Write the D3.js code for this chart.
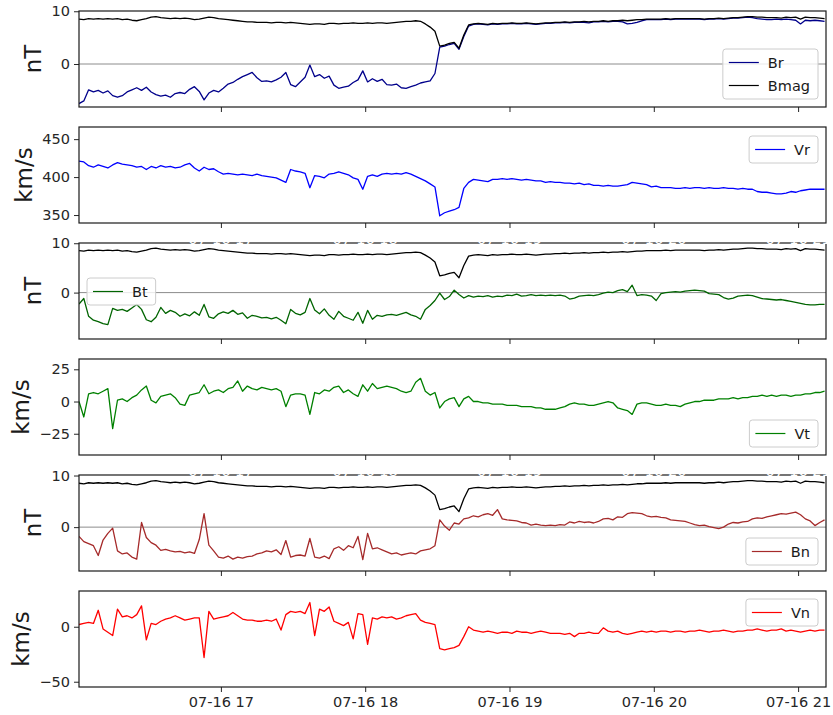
<!DOCTYPE html>
<html>
<head>
<meta charset="utf-8">
<script src="https://cdn.jsdelivr.net/npm/d3@7"></script>
<style>
  body { margin: 0; background: #fff; }
  svg { font-family: "DejaVu Sans", sans-serif; }
</style>
</head>
<body>
<svg width="833" height="715"></svg>
<script>
// samples every 2 minutes, first one at 07-16 16:01 UTC
const startTime = Date.UTC(2021, 6, 16, 16, 1);
const stepMinutes = 2;

const bmag = [8.5, 8.4, 8.6, 8.5, 8.6, 8.5, 8.6, 8.5, 8.6, 8.4,
  8.5, 8.3, 8.2, 8.4, 8.6, 8.9, 9.0, 8.8, 8.7, 8.6,
  8.7, 8.6, 8.7, 8.6, 8.4, 8.5, 8.7, 8.9, 8.8, 8.6,
  8.5, 8.4, 8.3, 8.2, 8.1, 8.0, 8.0, 7.9, 7.9, 7.9,
  7.8, 7.9, 7.9, 7.8, 7.9, 7.8, 7.7, 7.6, 7.5, 7.6,
  7.6, 7.5, 7.7, 7.7, 7.6, 7.7, 7.7, 7.8, 7.7, 7.7,
  7.8, 7.7, 7.8, 7.8, 7.7, 7.8, 7.9, 8.0, 8.1, 8.1,
  8.2, 8.1, 7.6, 7.0, 6.2, 3.4, 3.6, 3.9, 4.1, 3.0,
  5.5, 7.4, 7.6, 7.7, 7.6, 7.5, 7.7, 7.6, 7.7, 7.7,
  7.8, 7.7, 7.7, 7.8, 7.7, 7.6, 7.7, 7.8, 7.8, 7.9,
  7.9, 8.0, 7.9, 8.0, 8.0, 8.1, 8.0, 8.1, 8.1, 8.2,
  8.1, 8.2, 8.2, 8.3, 8.2, 8.3, 8.4, 8.4, 8.5, 8.5,
  8.5, 8.5, 8.6, 8.5, 8.6, 8.6, 8.6, 8.6, 8.6, 8.6,
  8.5, 8.6, 8.6, 8.7, 8.6, 8.7, 8.8, 8.8, 8.9, 9.0,
  9.0, 8.9, 8.9, 8.8, 8.8, 8.8, 8.7, 8.9, 8.8, 8.9,
  8.5, 8.9, 8.8, 8.8, 8.7, 8.6];

const br = [-7.5, -7.0, -4.9, -5.3, -5.0, -5.5, -5.1, -6.0, -6.3, -6.0,
  -5.3, -4.9, -4.5, -5.0, -4.4, -5.3, -5.8, -6.1, -5.9, -6.3,
  -5.6, -5.4, -5.6, -4.8, -4.3, -5.2, -6.8, -5.5, -5.0, -5.3,
  -4.6, -3.8, -3.5, -2.9, -2.4, -2.0, -1.6, -2.6, -3.3, -3.2,
  -3.4, -3.0, -2.5, -1.6, -3.9, -4.3, -3.4, -2.5, -0.2, -2.4,
  -2.0, -2.7, -2.3, -4.0, -4.6, -4.4, -4.2, -3.5, -3.0, -1.3,
  -3.4, -2.8, -3.3, -2.9, -3.9, -4.0, -3.8, -4.5, -4.6, -4.3,
  -4.0, -3.6, -3.4, -3.2, -1.8, 3.2, 3.4, 3.7, 3.9, 2.8,
  5.2, 7.2, 7.5, 7.6, 7.5, 7.4, 7.6, 7.5, 7.6, 7.6,
  7.7, 7.6, 7.6, 7.7, 7.6, 7.5, 7.6, 7.7, 7.7, 7.8,
  7.8, 7.9, 7.8, 7.9, 7.9, 7.9, 7.8, 8.0, 8.0, 8.1,
  8.0, 8.1, 8.1, 8.0, 7.6, 7.7, 7.9, 8.2, 8.4, 8.4,
  8.4, 8.4, 8.5, 8.4, 8.5, 8.5, 8.5, 8.5, 8.5, 8.5,
  8.4, 8.5, 8.5, 8.6, 8.5, 8.6, 8.7, 8.7, 8.8, 8.9,
  8.8, 8.6, 8.5, 8.4, 8.4, 8.5, 8.4, 8.5, 8.4, 8.3,
  7.6, 8.3, 8.2, 8.3, 8.2, 8.1];

const vr = [421, 420, 415, 413, 416, 414, 412, 416, 419, 417,
  416, 415, 413, 414, 410, 414, 412, 415, 413, 414,
  412, 413, 416, 418, 412, 408, 413, 410, 411, 407,
  404, 405, 404, 403, 404, 403, 402, 404, 402, 401,
  400, 399, 396, 393, 410, 408, 407, 405, 386, 402,
  401, 399, 404, 405, 407, 405, 403, 399, 397, 384,
  401, 403, 401, 404, 405, 404, 405, 404, 406, 404,
  401, 398, 395, 391, 387, 349, 353, 355, 357, 360,
  385, 393, 397, 396, 395, 394, 397, 397, 398, 397,
  398, 397, 396, 397, 396, 395, 395, 393, 394, 393,
  393, 392, 392, 391, 392, 390, 391, 389, 389, 388,
  389, 388, 388, 389, 390, 393, 392, 391, 390, 387,
  388, 386, 386, 386, 385, 385, 386, 385, 386, 386,
  385, 386, 385, 385, 386, 385, 385, 384, 385, 384,
  384, 381, 380, 380, 379, 378, 378, 379, 381, 380,
  382, 383, 384, 384, 384, 384];

const bt = [-2.3, -1.2, -4.8, -5.6, -5.9, -6.3, -6.5, -3.2, -3.6, -3.4,
  -3.8, -3.1, -2.4, -3.4, -5.5, -5.9, -5.0, -3.0, -4.2, -3.6,
  -4.0, -4.8, -4.3, -4.7, -3.9, -4.6, -2.4, -4.9, -5.2, -4.3,
  -3.9, -4.2, -3.6, -4.4, -4.1, -5.2, -4.6, -4.8, -5.1, -5.0,
  -5.3, -5.0, -5.6, -6.3, -3.4, -4.2, -4.5, -4.0, -1.2, -3.5,
  -4.3, -3.3, -4.6, -5.4, -3.8, -4.8, -5.2, -5.6, -4.0, -6.2,
  -3.6, -5.4, -4.6, -4.8, -4.5, -4.4, -4.6, -4.3, -4.0, -4.5,
  -4.8, -5.4, -3.4, -2.6, -1.6, -0.1, -1.4, -0.8, 0.5, -0.4,
  -1.1, -0.6, -0.9, -0.7, -0.8, -0.6, -0.9, -0.7, -0.8, -0.5,
  -0.6, -0.3, -0.7, -0.6, -0.4, -0.6, -0.5, -0.6, -0.5, -0.6,
  -0.5, -0.7, -1.3, -1.1, -0.7, -0.6, -0.5, -0.6, -0.4, -0.1,
  0.1, 0.0, 0.4, 0.6, 0.2, 1.5, -0.6, -0.4, -0.5, -0.7,
  -1.6, -0.2, 0.0, 0.1, 0.2, 0.1, 0.3, 0.4, 0.5, 0.4,
  0.3, -0.2, -0.3, -0.4, -1.0, -1.3, -1.1, -0.7, -0.6, -0.5,
  -0.6, -0.9, -1.2, -1.3, -1.4, -1.5, -1.4, -1.6, -1.8, -2.0,
  -2.2, -2.4, -2.5, -2.5, -2.4, -2.4];

const vt = [0, -12, 6, 7, 6, 8, 10, -21, 1, 2,
  0, 3, 5, 9, 12, 1, -1, 4, 5, 6,
  3, -2, -3, 5, 6, 7, 13, 6, 8, 9,
  7, 10, 11, 16, 8, 12, 10, 9, 11, 10,
  9, 10, 8, -4, 5, 6, 6, 5, -10, 7,
  6, 9, 8, 11, 12, 7, 9, 6, 4, 13,
  8, 14, 10, 11, 12, 11, 10, 8, 7, 8,
  15, 18, 8, 5, 7, -5, 0, 2, 3, -4,
  2, 4, 0, 0, -1, -1, -2, -2, -2, -3,
  -3, -3, -4, -4, -4, -5, -5, -6, -6, -6,
  -5, -4, -2, -1, -2, -2, -3, -3, -2, -1,
  0, -1, -5, -6, -7, -10, -2, -1, -1, -2,
  -3, -3, -2, -3, -3, -4, -2, -1, 0, 0,
  1, 1, 1, 2, 2, 2, 3, 2, 3, 3,
  4, 4, 5, 4, 5, 4, 5, 5, 4, 5,
  5, 6, 6, 7, 7, 8];

const bn = [-1.8, -2.8, -3.2, -3.6, -5.5, -2.5, -1.2, -0.2, -4.6, -5.2,
  -5.0, -5.8, -6.2, 0.9, -2.0, -3.0, -3.5, -4.5, -4.3, -4.6,
  -4.8, -4.7, -5.0, -4.8, -5.1, -2.4, 2.6, -3.5, -4.6, -5.8,
  -6.0, -5.6, -6.2, -5.8, -6.0, -5.7, -5.6, -5.2, -5.0, -4.6,
  -4.8, -4.4, -5.3, -2.6, -5.8, -5.5, -5.4, -5.6, -2.2, -5.8,
  -6.0, -5.6, -6.1, -4.2, -3.8, -4.5, -3.6, -4.0, -1.8, -6.3,
  -1.2, -4.2, -4.0, -4.4, -4.8, -5.2, -5.0, -5.4, -5.2, -5.0,
  -5.2, -4.6, -4.4, -4.2, -3.6, 1.4, 0.2, -0.6, 0.8, 0.6,
  1.6, 1.8, 2.2, 2.0, 2.4, 2.6, 2.3, 3.4, 1.6, 1.4,
  1.3, 1.2, 0.9, 0.8, 0.4, 0.6, 0.4, 0.3, 0.4, 0.3,
  0.5, 0.4, 1.0, 0.8, 1.1, 0.9, 1.0, 0.8, 1.1, 1.6,
  1.7, 1.4, 2.0, 1.9, 2.6, 2.8, 2.7, 2.6, 2.2, 2.0,
  2.1, 1.9, 1.8, 1.4, 1.3, 1.2, 1.1, 0.8, 0.5, 0.3,
  0.4, 0.1, -0.1, -0.3, 0.0, 0.6, 0.9, 0.8, 1.0, 1.1,
  1.6, 1.8, 1.7, 2.0, 2.2, 2.4, 2.6, 2.5, 2.7, 2.9,
  2.4, 1.6, 1.2, 0.3, 0.9, 1.4];

const vn = [2, 3, 4, 3, 15, -2, -5, -8, 16, 9,
  10, 8, 11, 19, -12, 3, 2, 5, 7, 8,
  10, 8, 6, 7, 8, 8, -28, 14, 7, 8,
  9, 10, 13, 10, 7, 6, 6, 5, 5, 6,
  5, 7, -3, 11, 14, 13, 14, 12, 22, -8,
  16, 14, 18, 5, 3, 1, 4, -11, 12, 11,
  -16, 8, 7, 9, 8, 9, 7, 8, 10, 11,
  12, 6, 4, 3, 2, -20, -21, -20, -19, -17,
  -9, 0, -3, -4, -5, -4, -5, -6, -5, -5,
  -6, -4, -5, -5, -6, -5, -4, -5, -6, -6,
  -6, -7, -6, -9, -6, -6, -5, -6, -6, -1,
  -4, -5, -4, -6, -7, -6, -5, -4, -5, -4,
  -5, -4, -4, -5, -4, -4, -5, -4, -4, -3,
  -4, -5, -4, -4, -3, -4, -5, -4, -4, -3,
  -3, -2, -3, -4, -3, -3, -2, -4, -3, -4,
  -5, -4, -3, -4, -3, -3];

const times = bmag.map((_, i) => new Date(startTime + i * stepMinutes * 60000));

// panel setup
const svg = d3.select('svg');
const left = 79, right = 826, top0 = 11, panelH = 96, gap = 20;
const x = d3.scaleUtc()
  .domain([new Date(Date.UTC(2021, 6, 16, 16, 1)), new Date(Date.UTC(2021, 6, 16, 21, 11, 36))])
  .range([left, right]);
const hourTicks = d3.utcHour.range(new Date(Date.UTC(2021, 6, 16, 17)), new Date(Date.UTC(2021, 6, 16, 21, 30)));
const fmt = d3.utcFormat('%m-%d %H');

const panels = [
  {unit: 'nT', domain: [-8.15, 10.05], ticks: [0, 10], zero: true,
   lines: [{name: 'Br', data: br, color: '#00008b'}, {name: 'Bmag', data: bmag, color: '#000'}],
   legend: {side: 'right', top: 38}},
  {unit: 'km/s', domain: [339.5, 466], ticks: [350, 400, 450], ghostLabels: true,
   lines: [{name: 'Vr', data: vr, color: '#0000ff'}],
   legend: {side: 'right', top: 9}},
  {unit: 'nT', domain: [-9.4, 10.05], ticks: [0, 10], zero: true,
   lines: [{data: bmag, color: '#000'}, {name: 'Bt', data: bt, color: '#006400'}],
   legend: {side: 'left', top: 35}},
  {unit: 'km/s', domain: [-41.5, 33], ticks: [-25, 0, 25], ghostLabels: true,
   lines: [{name: 'Vt', data: vt, color: '#008000'}],
   legend: {side: 'right', top: 61}},
  {unit: 'nT', domain: [-8.5, 10.1], ticks: [0, 10], zero: true,
   lines: [{data: bmag, color: '#000'}, {name: 'Bn', data: bn, color: '#a52a2a'}],
   legend: {side: 'right', top: 63}},
  {unit: 'km/s', domain: [-54.8, 32.5], ticks: [-50, 0],
   lines: [{name: 'Vn', data: vn, color: '#ff0000'}],
   legend: {side: 'right', top: 8}}
];

const ghosts = [];

panels.forEach((p, i) => {
  const top = top0 + i * (panelH + gap);
  const bottom = top + panelH;
  const y = d3.scaleLinear().domain(p.domain).range([bottom, top]);
  const g = svg.append('g');

  g.append('clipPath').attr('id', 'clip' + i)
    .append('rect').attr('x', left).attr('y', top).attr('width', right - left).attr('height', panelH);

  const plot = g.append('g').attr('clip-path', `url(#clip${i})`);
  if (p.zero) {
    plot.append('line')
      .attr('x1', left).attr('x2', right)
      .attr('y1', y(0)).attr('y2', y(0))
      .attr('stroke', '#8c8c8c').attr('stroke-width', 1);
  }
  const line = d3.line().x((d, j) => x(times[j])).y(d => y(d));
  p.lines.forEach(s => {
    plot.append('path')
      .attr('d', line(s.data))
      .attr('fill', 'none')
      .attr('stroke', s.color)
      .attr('stroke-width', 1.3)
      .attr('stroke-linejoin', 'round');
  });

  // y axis
  const yAxis = g.append('g')
    .attr('transform', `translate(${left},0)`)
    .call(d3.axisLeft(y).tickValues(p.ticks).tickSize(5).tickPadding(4).tickFormat(d3.format('d')));
  yAxis.select('.domain').remove();
  yAxis.selectAll('text').attr('font-size', 14.5).attr('fill', '#262626').attr('font-family', 'DejaVu Sans');
  yAxis.selectAll('line').attr('stroke', '#262626');

  // x axis ticks on every panel, labels only on the last
  const xAxis = g.append('g')
    .attr('transform', `translate(0,${bottom})`)
    .call(d3.axisBottom(x).tickValues(hourTicks).tickSize(5).tickPadding(5).tickFormat(i === panels.length - 1 ? fmt : ''));
  xAxis.select('.domain').remove();
  xAxis.selectAll('text').attr('font-size', 14.5).attr('fill', '#262626').attr('font-family', 'DejaVu Sans');
  xAxis.selectAll('line').attr('stroke', '#262626');
  if (p.ghostLabels) ghosts.push(bottom);

  g.append('rect')
    .attr('x', left).attr('y', top).attr('width', right - left).attr('height', panelH)
    .attr('fill', 'none').attr('stroke', '#1a1a1a').attr('stroke-width', 1.2);

  // y label, placed left of the tick labels
  let minX = left;
  yAxis.selectAll('text').each(function () { minX = Math.min(minX, this.getBBox().x + left); });
  g.append('text')
    .attr('transform', `translate(${minX - 10.5},${top + panelH / 2}) rotate(-90)`)
    .attr('text-anchor', 'middle')
    .attr('font-size', 23)
    .attr('fill', '#1a1a1a')
    .text(p.unit);

  // legend
  const named = p.lines.filter(s => s.name);
  const lg = g.append('g');
  const box = lg.append('rect').attr('rx', 3).attr('fill', '#fff').attr('fill-opacity', 0.8)
    .attr('stroke', '#cccccc').attr('stroke-width', 1);
  const labels = [];
  named.forEach((s, k) => {
    const cy = 13.5 + k * 23;
    lg.append('line').attr('x1', 6).attr('x2', 36).attr('y1', cy).attr('y2', cy)
      .attr('stroke', s.color).attr('stroke-width', 1.2);
    labels.push(lg.append('text').attr('x', 45).attr('y', cy + 5.2)
      .attr('font-size', 14.5).attr('fill', '#1a1a1a').text(s.name));
  });
  const textW = d3.max(labels, t => t.node().getComputedTextLength());
  const w = 45 + textW + 8, h = 27 + (named.length - 1) * 23;
  box.attr('width', w).attr('height', h);
  const lx = p.legend.side === 'right' ? right - 8 - w : left + 8;
  lg.attr('transform', `translate(${lx},${top + p.legend.top})`);
});

// hidden (white) x tick labels of the velocity panels that spill over the next panel's top edge
ghosts.forEach(b => {
  svg.append('g').selectAll('text').data(hourTicks).join('text')
    .attr('x', d => x(d)).attr('y', b + 21)
    .attr('text-anchor', 'middle').attr('font-size', 14.5).attr('fill', '#fff')
    .text(d => fmt(d));
});
</script>
</body>
</html>
